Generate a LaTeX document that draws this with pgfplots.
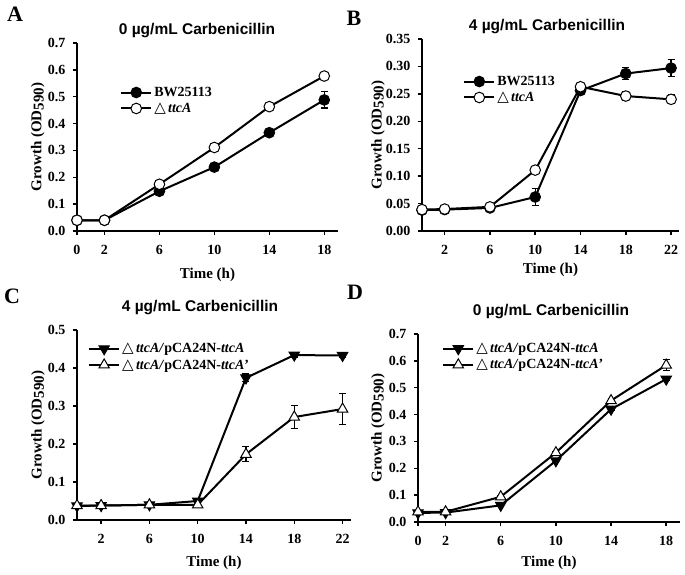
\documentclass[border=0pt]{standalone}
\usepackage{fontspec}
\setmainfont{Liberation Serif}
\newfontfamily\arialfont{Liberation Sans}
\newfontfamily\symfont{DejaVu Sans}
\usepackage{pgfplots}
\pgfplotsset{compat=1.18}
\newcommand{\dl}{{\symfont\mdseries\fontsize{15}{15}\selectfont △}}
\pgfplotsset{
 panel/.style={
  scale only axis, axis lines*=left, axis line style={line width=1.8pt},
  tick align=outside, major tick length=4pt, tick style={line width=1.5pt, black},
  ymin=0, xmin=0,
  tick label style={font=\bfseries\fontsize{14}{14}\selectfont},
  xticklabel style={yshift=-7pt},
  yticklabel style={xshift=-4pt},
  /pgf/number format/assume math mode=true,
  label style={font=\bfseries\fontsize{15}{15}\selectfont},
  ylabel={Growth (OD\raisebox{-0.3ex}{590})},
  xlabel={Time (h)},
  legend style={draw=none, fill=none, font=\bfseries\fontsize{14}{16}\selectfont, anchor=north west, inner sep=0pt, row sep=1pt, cells={anchor=west}},
  legend image code/.code={\draw[mark repeat=2,mark phase=2] plot coordinates {(0pt,0pt)(15pt,0pt)(30pt,0pt)};},
  clip=false,
 },
 ln/.style={line width=2pt, black},
 filledc/.style={ln, mark=*, mark size=5.3pt, mark options={fill=black, solid, line width=1pt}},
 openc/.style={ln, mark=*, mark size=5.3pt, mark options={fill=white, solid, line width=1pt}},
 filledt/.style={ln, mark=triangle*, mark size=6pt, mark options={fill=black, rotate=180, solid, line width=1pt}},
 opent/.style={ln, mark=triangle*, mark size=6pt, mark options={fill=white, solid, line width=1pt}},
 eb/.style={error bars/.cd, y dir=both, y explicit, error bar style={line width=1.2pt}, error mark options={rotate=90, mark size=3.5pt, line width=1.2pt}},
}
\begin{document}
\begin{tikzpicture}
\useasboundingbox (0,0) rectangle (685pt,574pt);
% panel letters
\node[font=\bfseries\fontsize{22}{22}\selectfont] at (15pt,560pt) {A};
\node[font=\bfseries\fontsize{22}{22}\selectfont] at (354pt,556pt) {B};
\node[font=\bfseries\fontsize{22}{22}\selectfont] at (12pt,278pt) {C};
\node[font=\bfseries\fontsize{22}{22}\selectfont] at (355pt,282pt) {D};
% titles
\node[font=\arialfont\bfseries\fontsize{15.5}{16}\selectfont] at (197pt,543pt) {0 µg/mL Carbenicillin};
\node[font=\arialfont\bfseries\fontsize{15.5}{16}\selectfont] at (547pt,547pt) {4 µg/mL Carbenicillin};
\node[font=\arialfont\bfseries\fontsize{15.5}{16}\selectfont] at (200pt,266pt) {4 µg/mL Carbenicillin};
\node[font=\arialfont\bfseries\fontsize{15.5}{16}\selectfont] at (551pt,262pt) {0 µg/mL Carbenicillin};

% Panel A
\begin{axis}[panel, at={(77pt,343pt)}, anchor=south west, width=261pt, height=188pt,
  xmax=19, ymax=0.7, xtick={0,2,6,10,14,18}, ytick={0,0.1,0.2,0.3,0.4,0.5,0.6,0.7},
  yticklabel style={/pgf/number format/.cd, fixed, fixed zerofill, precision=1},
  ylabel style={at={(axis description cs:-0.15,0.5)}, anchor=center},
  xlabel style={at={(axis description cs:0.5,-0.234)}, anchor=center},
  legend style={at={(axis description cs:0.165,0.777)}}]
\addplot[filledc, eb] coordinates {(0,0.04) +- (0,0) (2,0.04) +- (0,0) (6,0.148) +- (0,0.005) (10,0.238) +- (0,0.006) (14,0.366) +- (0,0.006) (18,0.488) +- (0,0.03)};
\addlegendentry{BW25113}
\addplot[openc, eb] coordinates {(0,0.04) +- (0,0) (2,0.04) +- (0,0) (6,0.174) +- (0,0.005) (10,0.311) +- (0,0.005) (14,0.463) +- (0,0.005) (18,0.577) +- (0,0.006)};
\addlegendentry{\dl\,\textit{ttcA}}
\end{axis}

% Panel B
\begin{axis}[panel, at={(422pt,343pt)}, anchor=south west, width=257pt, height=192pt,
  xmax=22.7, ymax=0.35, xtick={2,6,10,14,18,22}, ytick={0,0.05,0.1,0.15,0.2,0.25,0.3,0.35},
  yticklabel style={/pgf/number format/.cd, fixed, fixed zerofill, precision=2},
  ylabel style={at={(axis description cs:-0.171,0.5)}, anchor=center},
  xlabel style={at={(axis description cs:0.5,-0.203)}, anchor=center},
  legend style={at={(axis description cs:0.16,0.818)}}]
\addplot[filledc, eb] coordinates {(0,0.038) +- (0,0.002) (2,0.039) +- (0,0.002) (6,0.042) +- (0,0.002) (10,0.062) +- (0,0.015) (14,0.256) +- (0,0.004) (18,0.287) +- (0,0.011) (22,0.297) +- (0,0.015)};
\addlegendentry{BW25113}
\addplot[openc, eb] coordinates {(0,0.039) +- (0,0.002) (2,0.04) +- (0,0.002) (6,0.044) +- (0,0.002) (10,0.111) +- (0,0.003) (14,0.263) +- (0,0.007) (18,0.246) +- (0,0.008) (22,0.24) +- (0,0.008)};
\addlegendentry{\dl\,\textit{ttcA}}
\end{axis}

% Panel C
\begin{axis}[panel, at={(77pt,54pt)}, anchor=south west, width=274pt, height=190pt,
  xmax=22.7, ymax=0.5, xtick={2,6,10,14,18,22}, ytick={0,0.1,0.2,0.3,0.4,0.5},
  yticklabel style={/pgf/number format/.cd, fixed, fixed zerofill, precision=1},
  ylabel style={at={(axis description cs:-0.142,0.5)}, anchor=center},
  xlabel style={at={(axis description cs:0.5,-0.226)}, anchor=center},
  legend style={at={(axis description cs:0.04,0.942)}}]
\addplot[filledt, eb] coordinates {(0,0.037) +- (0,0.002) (2,0.038) +- (0,0.002) (6,0.04) +- (0,0.002) (10,0.05) +- (0,0.003) (14,0.374) +- (0,0.01) (18,0.434) +- (0,0.005) (22,0.433) +- (0,0.004)};
\addlegendentry{\dl\,\textit{ttcA/}pCA24N-\textit{ttcA}}
\addplot[opent, eb] coordinates {(0,0.038) +- (0,0.002) (2,0.038) +- (0,0.002) (6,0.04) +- (0,0.002) (10,0.04) +- (0,0.002) (14,0.173) +- (0,0.02) (18,0.271) +- (0,0.03) (22,0.292) +- (0,0.04)};
\addlegendentry{\dl\,\textit{ttcA/}pCA24N-\textit{ttcA}\char39}
\end{axis}

% Panel D
\begin{axis}[panel, at={(418pt,52pt)}, anchor=south west, width=262pt, height=188pt,
  xmax=19, ymax=0.7, xtick={0,2,6,10,14,18}, ytick={0,0.1,0.2,0.3,0.4,0.5,0.6,0.7},
  yticklabel style={/pgf/number format/.cd, fixed, fixed zerofill, precision=1},
  ylabel style={at={(axis description cs:-0.153,0.5)}, anchor=center},
  xlabel style={at={(axis description cs:0.5,-0.218)}, anchor=center},
  legend style={at={(axis description cs:0.092,0.963)}}]
\addplot[filledt, eb] coordinates {(0,0.034) +- (0,0.002) (2,0.035) +- (0,0.002) (6,0.062) +- (0,0.003) (10,0.228) +- (0,0.005) (14,0.42) +- (0,0.006) (18,0.532) +- (0,0.006)};
\addlegendentry{\dl\,\textit{ttcA/}pCA24N-\textit{ttcA}}
\addplot[opent, eb] coordinates {(0,0.038) +- (0,0.002) (2,0.038) +- (0,0.002) (6,0.094) +- (0,0.004) (10,0.258) +- (0,0.006) (14,0.452) +- (0,0.008) (18,0.584) +- (0,0.02)};
\addlegendentry{\dl\,\textit{ttcA/}pCA24N-\textit{ttcA}\char39}
\end{axis}
\end{tikzpicture}
\end{document}
